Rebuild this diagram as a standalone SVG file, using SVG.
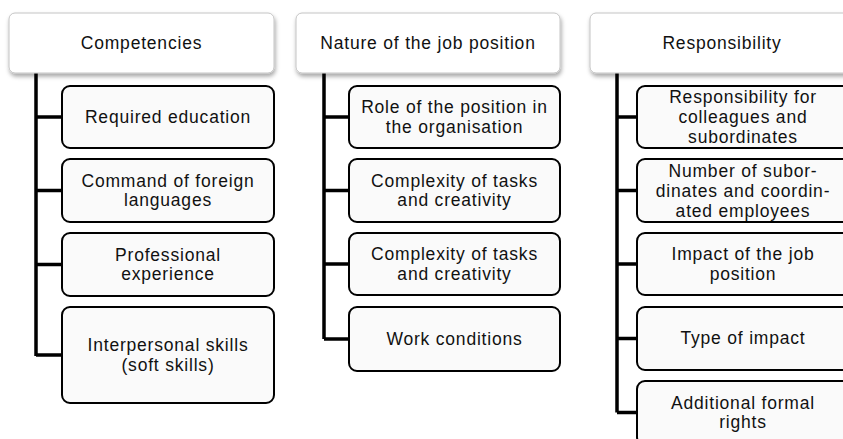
<svg xmlns="http://www.w3.org/2000/svg" width="843" height="439" viewBox="0 0 843 439">
<defs>
<filter id="sh" x="-10%" y="-20%" width="130%" height="160%">
<feDropShadow dx="1" dy="3" stdDeviation="2" flood-color="#000" flood-opacity="0.35"/>
</filter>
<style>
.hdr{fill:#fff;stroke:#c4c4c4;stroke-width:1;filter:url(#sh)}
.box{fill:#fafafa;stroke:#000;stroke-width:2}
.t{font-family:"Liberation Sans",Arial,sans-serif;font-size:17.5px;letter-spacing:0.8px;fill:#111;text-anchor:middle}
.ln{fill:none;stroke:#000;stroke-width:3.5}
</style>
</defs>
<rect width="843" height="439" fill="#fff"/>
<g id="connectors">
<path class="ln" d="M36,73V356M36,117H62M36,190.5H62M36,264.5H62M36,355H62"/>
<path class="ln" d="M324,73V339M324,117H349M324,190.5H349M324,264H349M324,339H349"/>
<path class="ln" d="M617,73V412.5M617,117H637M617,190.5H637M617,264H637M617,338.5H637M617,412.5H637"/>
</g>
<g id="competencies">
<rect class="hdr" x="9" y="13" width="265" height="60" rx="6"/>
<text class="t" x="141.5" y="49">Competencies</text>
</g>
<g id="required-education">
<rect class="box" x="62" y="86" width="212" height="62" rx="8"/>
<text class="t" x="168" y="123">Required education</text>
</g>
<g id="foreign-languages">
<rect class="box" x="62" y="159" width="212" height="63" rx="8"/>
<text class="t" x="168" y="186.5">Command of foreign</text>
<text class="t" x="168" y="206">languages</text>
</g>
<g id="professional-experience">
<rect class="box" x="62" y="233" width="212" height="63" rx="8"/>
<text class="t" x="168" y="260.5">Professional</text>
<text class="t" x="168" y="280">experience</text>
</g>
<g id="interpersonal-skills">
<rect class="box" x="62" y="307" width="212" height="96" rx="8"/>
<text class="t" x="168" y="351">Interpersonal skills</text>
<text class="t" x="168" y="370.5">(soft skills)</text>
</g>
<g id="nature">
<rect class="hdr" x="296" y="13" width="264" height="60" rx="6"/>
<text class="t" x="428" y="49">Nature of the job position</text>
</g>
<g id="role">
<rect class="box" x="349" y="86" width="211" height="62" rx="8"/>
<text class="t" x="454.5" y="113">Role of the position in</text>
<text class="t" x="454.5" y="132.5">the organisation</text>
</g>
<g id="complexity-1">
<rect class="box" x="349" y="159" width="211" height="63" rx="8"/>
<text class="t" x="454.5" y="186.5">Complexity of tasks</text>
<text class="t" x="454.5" y="206">and creativity</text>
</g>
<g id="complexity-2">
<rect class="box" x="349" y="233" width="211" height="62" rx="8"/>
<text class="t" x="454.5" y="260">Complexity of tasks</text>
<text class="t" x="454.5" y="279.5">and creativity</text>
</g>
<g id="work-conditions">
<rect class="box" x="349" y="307" width="211" height="64" rx="8"/>
<text class="t" x="454.5" y="345">Work conditions</text>
</g>
<g id="responsibility">
<rect class="hdr" x="590" y="13" width="265" height="60" rx="6"/>
<text class="t" x="722" y="49">Responsibility</text>
</g>
<g id="resp-colleagues">
<rect class="box" x="637" y="86" width="213" height="62" rx="8"/>
<text class="t" x="743" y="103">Responsibility for</text>
<text class="t" x="743" y="123">colleagues and</text>
<text class="t" x="743" y="143">subordinates</text>
</g>
<g id="number-subordinates">
<rect class="box" x="637" y="159" width="213" height="63" rx="8"/>
<text class="t" x="743" y="176.5">Number of subor-</text>
<text class="t" x="743" y="196.5">dinates and coordin-</text>
<text class="t" x="743" y="216.5">ated employees</text>
</g>
<g id="impact">
<rect class="box" x="637" y="233" width="213" height="62" rx="8"/>
<text class="t" x="743" y="260">Impact of the job</text>
<text class="t" x="743" y="279.5">position</text>
</g>
<g id="type-impact">
<rect class="box" x="637" y="307" width="213" height="63" rx="8"/>
<text class="t" x="743" y="344">Type of impact</text>
</g>
<g id="formal-rights">
<rect class="box" x="637" y="381" width="213" height="64" rx="8"/>
<text class="t" x="743" y="408.5">Additional formal</text>
<text class="t" x="743" y="428">rights</text>
</g>
</svg>
